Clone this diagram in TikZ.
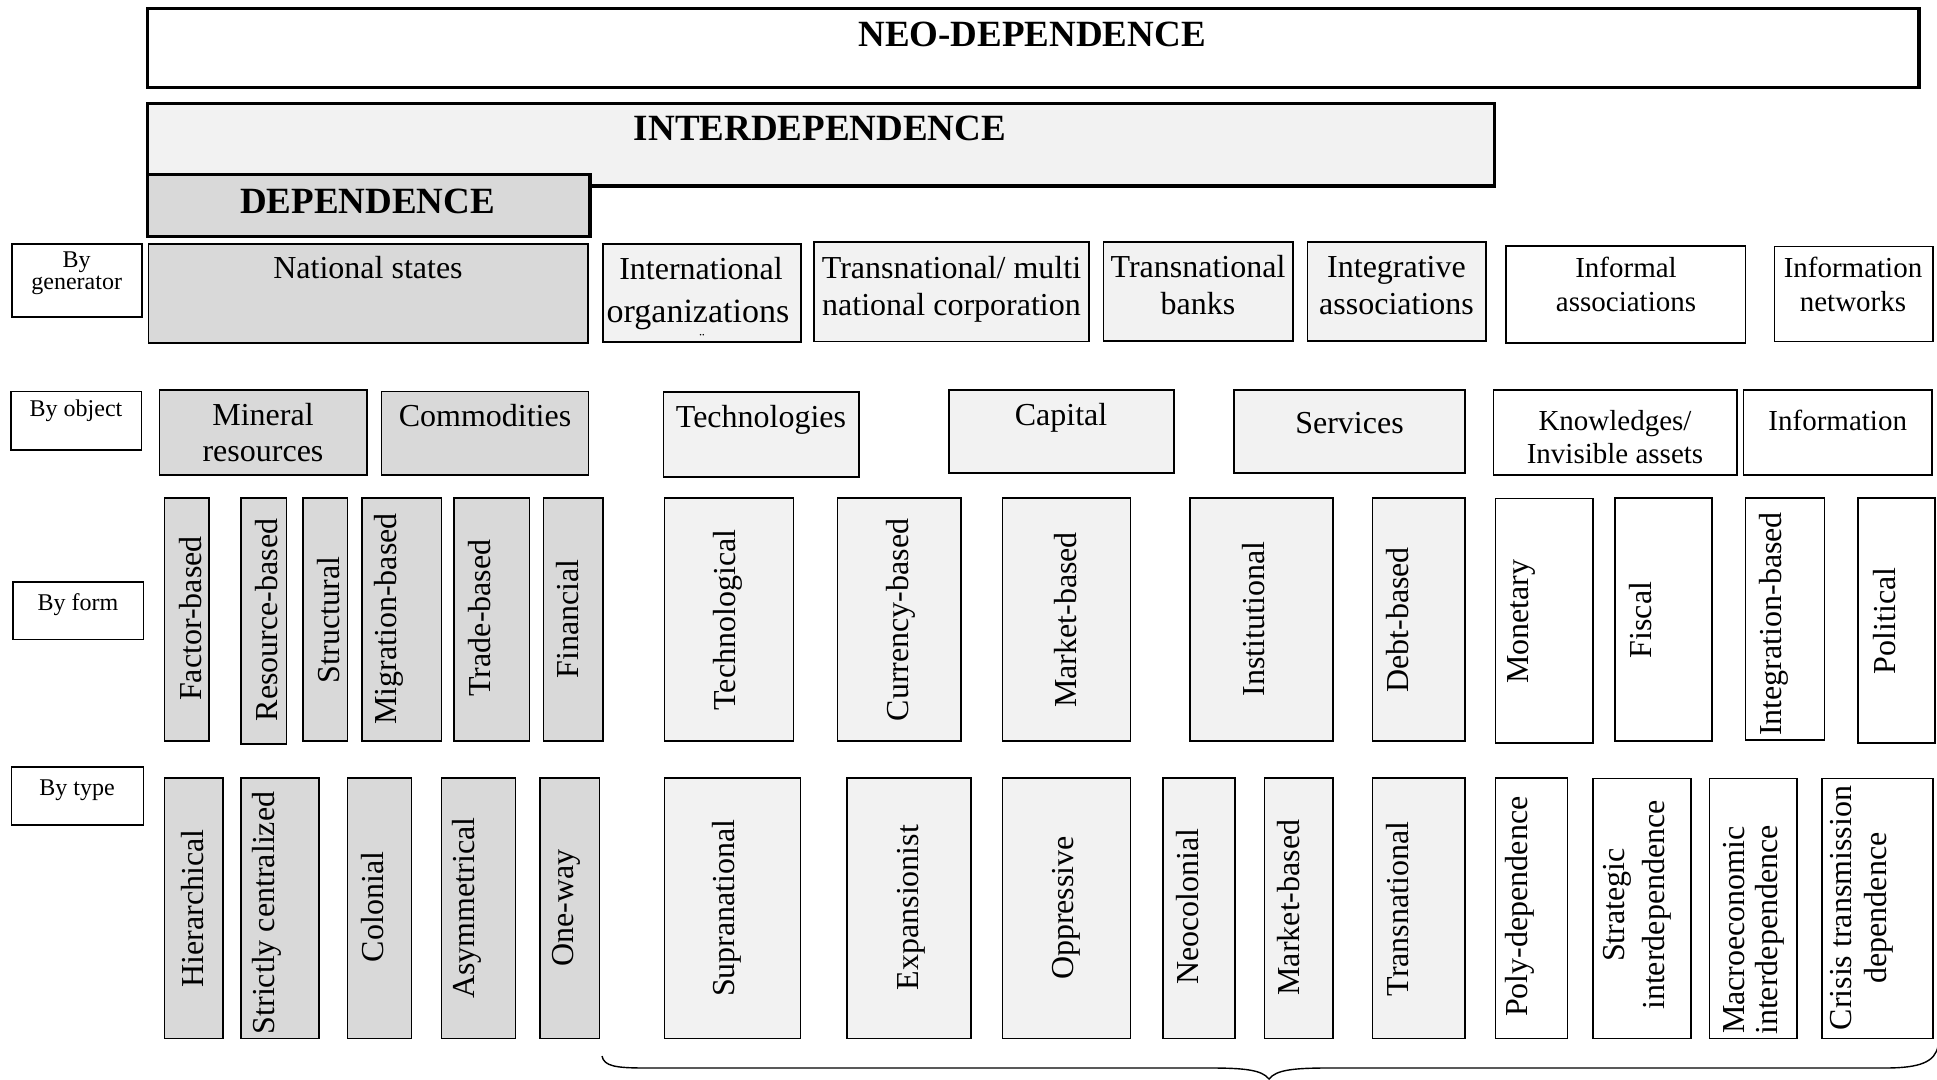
\documentclass[tikz,border=0pt]{standalone}
\usepackage{fontspec}
\setmainfont{Liberation Serif}
\usetikzlibrary{fit}
\definecolor{gD}{HTML}{D9D9D9}
\definecolor{gL}{HTML}{F2F2F2}
\begin{document}
\begin{tikzpicture}[x=0.5pt,y=-0.5pt,
  cell/.style={draw=black, line width=0.8pt, inner sep=0pt},
  bigbox/.style={draw=black, line width=1.6pt, inner sep=0pt},
  dk/.style={fill=gD}, lt/.style={fill=gL}, wh/.style={fill=white},
  head/.style={inner sep=0pt, anchor=base, font=\bfseries\fontsize{18.5}{20}\selectfont},
  txt/.style={inner sep=0pt, anchor=base, font=\fontsize{16}{18}\selectfont},
  txtsm/.style={inner sep=0pt, anchor=base, font=\fontsize{14.5}{16.5}\selectfont},
  rowlab/.style={inner sep=0pt, anchor=base, font=\fontsize{12}{13}\selectfont},
  vtxt/.style={inner sep=0pt, rotate=90, align=center, font=\fontsize{16}{18}\selectfont},
]
\useasboundingbox (0,0) rectangle (1937,1080);

% ---- nested levels ----
\node[bigbox, wh, fit={(147.5,8.7) (1919,87.7)}] (neo) {};
\node[bigbox, lt, fit={(147.5,103.3) (1494.5,186)}] (inter) {};
\node[bigbox, dk, fit={(147.5,174.3) (590,236.7)}] (dep) {};
\node[head] (neo-t) at (1032,47) {NEO-DEPENDENCE};
\node[head] (inter-t) at (820,141) {INTERDEPENDENCE};
\node[head] (dep-t) at (367.5,213.3) {DEPENDENCE};

% ---- by generator ----
\node[cell, wh, fit={(11.7,244.3) (141.7,317)}] (bygen) {};
\node[rowlab] (bygen-1) at (76.7,268) {By};
\node[rowlab] (bygen-2) at (76.7,290) {generator};

\node[cell, dk, fit={(148.3,244.3) (588,343)}] (ns) {};
\node[txt] (ns-1) at (368,278.5) {National states};

\node[cell, lt, fit={(602.7,244.3) (800.7,342.3)}] (io) {};
\node[txt] (io-1) at (701,280) {International};
\node[txt, font=\fontsize{17}{19}\selectfont] (io-2) at (698,323) {organizations};
\node[inner sep=0pt, font=\fontsize{8}{8}\selectfont] (io-3) at (702,339) {¨};

\node[cell, lt, fit={(814,242.3) (1089,341.7)}] (tnc) {};
\node[txt] (tnc-1) at (951.5,279) {Transnational/ multi};
\node[txt] (tnc-2) at (951.5,316) {national corporation};

\node[cell, lt, fit={(1103.3,242.3) (1292.7,341)}] (tb) {};
\node[txt] (tb-1) at (1198,278) {Transnational};
\node[txt] (tb-2) at (1198,315) {banks};

\node[cell, lt, fit={(1307.3,242.3) (1485.7,341)}] (ia) {};
\node[txt] (ia-1) at (1396.5,278) {Integrative};
\node[txt] (ia-2) at (1396.5,315) {associations};

\node[cell, wh, fit={(1506,246) (1745.6,343.3)}] (infa) {};
\node[txtsm] (infa-1) at (1626,278) {Informal};
\node[txtsm] (infa-2) at (1626,311.5) {associations};

\node[cell, wh, fit={(1774.4,246.7) (1933,341.7)}] (infn) {};
\node[txtsm] (infn-1) at (1853,278) {Information};
\node[txtsm] (infn-2) at (1853,311.5) {networks};

% ---- by object ----
\node[cell, wh, fit={(11,391.7) (141.6,450)}] (byobj) {};
\node[rowlab] (byobj-1) at (76,416.7) {By object};

\node[cell, dk, fit={(159.4,390) (366.7,475)}] (mr) {};
\node[txt] (mr-1) at (263,425) {Mineral};
\node[txt] (mr-2) at (263,461.5) {resources};

\node[cell, dk, fit={(381.4,391.7) (588.6,475)}] (com) {};
\node[txt] (com-1) at (485,426.7) {Commodities};

\node[cell, lt, fit={(663.3,392) (859,477)}] (tech) {};
\node[txt] (tech-1) at (761,427.5) {Technologies};

\node[cell, lt, fit={(948.7,390) (1174,472.7)}] (cap) {};
\node[txt] (cap-1) at (1061,425) {Capital};

\node[cell, lt, fit={(1233.8,390) (1465,472.7)}] (serv) {};
\node[txt] (serv-1) at (1349.5,433) {Services};

\node[cell, wh, fit={(1493.3,390) (1737,475)}] (know) {};
\node[txtsm] (know-1) at (1615,430) {Knowledges/};
\node[txtsm] (know-2) at (1615,463.3) {Invisible assets};

\node[cell, wh, fit={(1743.3,390) (1932,475)}] (info) {};
\node[txtsm] (info-1) at (1837.7,430.7) {Information};

% ---- by form ----
\node[cell, wh, fit={(12.8,581.7) (143.5,639.3)}] (byform) {};
\node[rowlab] (byform-1) at (78,610) {By form};

\node[cell, dk, fit={(164.5,497.7) (209.2,740.7)}] (fa) {};
\node[vtxt] (fa-t) at (191,618.5) {Factor-based};
\node[cell, dk, fit={(241,497.7) (286.4,744)}] (rb) {};
\node[vtxt] (rb-t) at (267,620) {Resource-based};
\node[cell, dk, fit={(303,497.7) (347.6,740.7)}] (st) {};
\node[vtxt] (st-t) at (328.4,620) {Structural};
\node[cell, dk, fit={(362.2,497.7) (441.3,740.7)}] (mb) {};
\node[vtxt] (mb-t) at (389,619) {Migration-based};
\node[cell, dk, fit={(454,497.7) (529.3,740.7)}] (tr) {};
\node[vtxt] (tr-t) at (480,618) {Trade-based};
\node[cell, dk, fit={(543.4,497.7) (602.7,740.7)}] (fi) {};
\node[vtxt] (fi-t) at (568,619) {Financial};

\node[cell, lt, fit={(664.5,497.7) (793.4,740.7)}] (tg) {};
\node[vtxt] (tg-t) at (728.3,620) {Technological};
\node[cell, lt, fit={(837.4,497.7) (961.1,740.7)}] (cu) {};
\node[vtxt] (cu-t) at (900.5,620) {Currency-based};
\node[cell, lt, fit={(1002.5,497.7) (1130.6,740.7)}] (mk) {};
\node[vtxt] (mk-t) at (1066,620) {Market-based};
\node[cell, lt, fit={(1190,497.7) (1333,740.7)}] (ins) {};
\node[vtxt] (ins-t) at (1253.5,619) {Institutional};
\node[cell, lt, fit={(1372.5,497.7) (1465,740.7)}] (db) {};
\node[vtxt] (db-t) at (1397.5,620) {Debt-based};

\node[cell, wh, fit={(1495.6,498.3) (1593,743)}] (mo) {};
\node[vtxt] (mo-t) at (1521,621.7) {Monetary};
\node[cell, wh, fit={(1615,497.7) (1712,740.7)}] (fs) {};
\node[vtxt] (fs-t) at (1641,620) {Fiscal};
\node[cell, wh, fit={(1745.6,497.7) (1824.4,740)}] (ib) {};
\node[vtxt] (ib-t) at (1773.5,624) {Integration-based};
\node[cell, wh, fit={(1858,497.7) (1935,743)}] (po) {};
\node[vtxt] (po-t) at (1885,621) {Political};

% ---- by type ----
\node[cell, wh, fit={(11.5,766.7) (143.5,825)}] (bytype) {};
\node[rowlab] (bytype-1) at (77,795) {By type};

\node[cell, dk, fit={(164.5,777.7) (223.2,1038.3)}] (hi) {};
\node[vtxt] (hi-t) at (192.5,908.3) {Hierarchical};
\node[cell, dk, fit={(241,777.7) (318.9,1038.3)}] (sc) {};
\node[vtxt] (sc-t) at (267,913) {Strictly centralized};
\node[cell, dk, fit={(347.6,777.7) (411.4,1038.3)}] (co) {};
\node[vtxt] (co-t) at (373,907) {Colonial};
\node[cell, dk, fit={(441.3,777.7) (515.3,1038.3)}] (as) {};
\node[vtxt] (as-t) at (467,908) {Asymmetrical};
\node[cell, dk, fit={(540.2,777.7) (599.5,1038.3)}] (ow) {};
\node[vtxt] (ow-t) at (566,908) {One-way};

\node[cell, lt, fit={(664.5,777.7) (800.4,1038.3)}] (su) {};
\node[vtxt] (su-t) at (727,908) {Supranational};
\node[cell, lt, fit={(847,777.7) (970.7,1038.3)}] (ex) {};
\node[vtxt] (ex-t) at (911,907.5) {Expansionist};
\node[cell, lt, fit={(1002.5,777.7) (1130.6,1038.3)}] (op) {};
\node[vtxt] (op-t) at (1066,908) {Oppressive};
\node[cell, lt, fit={(1163,777.7) (1235,1038.3)}] (nc) {};
\node[vtxt] (nc-t) at (1188,906.7) {Neocolonial};
\node[cell, lt, fit={(1264.4,777.7) (1333,1038.3)}] (mt) {};
\node[vtxt] (mt-t) at (1289,907.5) {Market-based};
\node[cell, lt, fit={(1372.5,777.7) (1465,1038.3)}] (tn) {};
\node[vtxt] (tn-t) at (1397.5,909) {Transnational};

\node[cell, wh, fit={(1495.6,777.7) (1567.5,1038.3)}] (pd) {};
\node[vtxt] (pd-t) at (1519.5,906.7) {Poly-dependence};
\node[cell, wh, fit={(1592.7,778.3) (1691,1038.3)}] (sg) {};
\node[vtxt, font=\fontsize{16}{20}\selectfont] (sg-t) at (1637,905) {Strategic\\interdependence};
\node[cell, wh, fit={(1709.3,778.3) (1796.7,1038.3)}] (me) {};
\node[vtxt, font=\fontsize{16}{16.5}\selectfont] (me-t) at (1754,930) {Macroeconomic\\interdependence};
\node[cell, wh, fit={(1821.7,778.3) (1932.7,1038.3)}] (cr) {};
\node[vtxt, font=\fontsize{16}{17.5}\selectfont] (cr-t) at (1862,908) {Crisis transmission\\dependence};

% ---- brace under the interdependence and neo-dependence groups ----
\coordinate (br-l) at (602,1056);
\coordinate (br-t) at (1269,1079);
\coordinate (br-r) at (1938,1046);
\draw[line width=0.7pt]
  (br-l) .. controls (604,1066) and (615,1068) .. (645,1068)
  -- (1210,1068) .. controls (1245,1068) and (1262,1070) .. (br-t)
  .. controls (1276,1070) and (1293,1068) .. (1328,1068)
  -- (1885,1068) .. controls (1920,1068) and (1935,1062) .. (br-r);
\end{tikzpicture}
\end{document}
